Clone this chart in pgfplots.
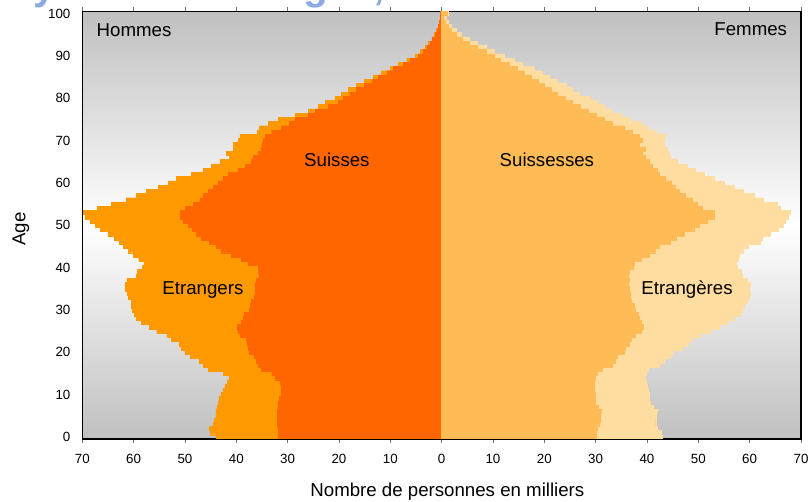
\documentclass[border=0pt]{standalone}
\usepackage{fontspec}
\setmainfont{Liberation Sans}
\usepackage{pgfplots}
\pgfplotsset{compat=1.18}
\usepackage{pgfplotstable}
\usetikzlibrary{calc}

\definecolor{suisses}{HTML}{FF6600}
\definecolor{etrangers}{HTML}{FF9900}
\definecolor{suissesses}{HTML}{FFBB55}
\definecolor{etrangeres}{HTML}{FFDDA0}
\definecolor{fond}{HTML}{C0C0C0}
\definecolor{titre}{HTML}{8EA8E0}

% milliers de personnes par age : S = suisses, T = total (suisses + etrangers)
\pgfplotstableread{
age S T
0 31.8 44.0
1 31.8 45.0
2 31.9 45.2
3 32.0 44.5
4 32.0 44.3
5 32.0 44.0
6 32.0 44.0
7 31.9 43.8
8 31.8 43.5
9 31.6 43.4
10 31.3 43.0
11 31.2 42.6
12 31.3 42.2
13 31.5 41.8
14 32.5 41.4
15 33.1 42.5
16 35.1 45.5
17 35.8 46.5
18 36.2 47.3
19 36.5 49.0
20 37.4 50.0
21 37.7 50.8
22 37.8 51.2
23 38.0 52.6
24 39.3 53.5
25 39.6 55.5
26 39.8 57.0
27 39.0 58.5
28 38.7 59.5
29 38.5 59.8
30 37.5 60.2
31 37.2 60.5
32 37.0 60.5
33 36.5 61.0
34 36.4 61.2
35 36.3 61.6
36 36.4 61.6
37 36.2 61.3
38 35.6 59.5
39 35.7 59.3
40 35.7 58.3
41 37.7 58.0
42 39.0 59.0
43 40.9 60.0
44 42.9 61.0
45 43.9 62.0
46 45.2 62.8
47 46.8 63.7
48 47.8 65.0
49 48.6 66.5
50 49.4 67.5
51 50.4 68.5
52 51.0 69.5
53 51.0 69.8
54 50.0 67.0
55 48.4 64.3
56 47.1 61.4
57 46.5 59.5
58 45.5 57.5
59 44.5 55.2
60 43.5 53.3
61 42.6 51.7
62 41.6 48.7
63 39.6 46.5
64 38.3 44.8
65 37.0 43.2
66 36.7 41.3
67 35.7 41.9
68 35.2 40.6
69 35.0 40.6
70 34.8 39.6
71 34.4 39.3
72 33.1 35.9
73 31.2 35.5
74 29.6 33.8
75 28.6 31.8
76 26.0 28.6
77 24.7 26.0
78 22.1 24.0
79 20.1 22.7
80 19.2 20.8
81 17.9 19.5
82 16.6 18.2
83 15.0 16.6
84 13.6 15.0
85 12.3 13.3
86 10.7 11.7
87 9.4 10.1
88 7.5 8.4
89 6.2 6.8
90 4.5 5.2
91 3.6 4.2
92 2.9 3.2
93 2.3 2.6
94 1.8 1.9
95 1.3 1.4
96 0.9 1.0
97 0.6 0.7
98 0.4 0.4
99 0.2 0.2
100 0.3 0.3
}\hommes

\pgfplotstableread{
age S T
0 30.2 43.0
1 30.2 42.8
2 30.3 42.0
3 30.6 41.7
4 30.8 41.7
5 30.8 41.8
6 31.0 42.0
7 30.4 41.2
8 30.0 40.7
9 30.0 40.5
10 29.9 40.4
11 29.7 40.3
12 29.7 40.0
13 29.7 39.8
14 30.0 39.7
15 30.3 39.9
16 31.3 40.2
17 33.2 42.3
18 33.8 43.3
19 34.2 44.6
20 35.5 45.2
21 35.8 46.9
22 36.6 48.0
23 36.9 48.8
24 37.8 50.4
25 38.9 52.4
26 39.2 54.0
27 38.8 55.6
28 38.5 56.9
29 38.3 58.2
30 37.8 58.6
31 37.6 58.9
32 37.0 59.5
33 36.8 60.0
34 36.7 60.2
35 36.5 60.0
36 36.4 60.1
37 36.5 59.6
38 36.4 58.5
39 36.6 58.3
40 37.3 57.5
41 37.6 57.4
42 38.8 57.8
43 40.4 58.0
44 41.6 58.8
45 42.4 59.8
46 44.6 62.1
47 45.6 62.4
48 47.2 64.0
49 49.1 65.6
50 50.1 66.6
51 51.7 66.9
52 53.0 67.6
53 53.0 67.8
54 50.7 66.0
55 49.8 65.3
56 48.8 62.7
57 47.5 60.8
58 46.2 58.8
59 45.4 56.9
60 44.8 55.0
61 43.6 53.0
62 42.4 51.1
63 41.9 49.4
64 41.0 47.8
65 40.4 45.9
66 39.7 44.6
67 39.1 44.3
68 39.7 43.9
69 38.5 43.3
70 39.1 43.3
71 38.5 43.6
72 37.2 41.7
73 35.5 40.2
74 33.3 38.8
75 31.6 36.5
76 30.2 35.0
77 28.6 33.0
78 27.0 31.6
79 25.5 30.3
80 24.0 29.0
81 22.6 26.8
82 21.3 25.5
83 20.0 24.2
84 18.8 22.6
85 17.4 20.9
86 16.1 19.6
87 14.8 18.0
88 13.2 15.7
89 11.5 14.1
90 10.2 12.2
91 8.6 10.2
92 7.0 8.6
93 5.4 7.0
94 4.1 5.4
95 2.8 3.8
96 1.9 2.8
97 1.2 1.8
98 0.7 1.3
99 0.4 0.8
100 1.0 1.2
}\femmes

\begin{document}
\begin{tikzpicture}
\begin{axis}[
    name=pyr,
    scale only axis,
    width=539pt, height=320.6pt,
    xmin=-70, xmax=70,
    ymin=-0.5, ymax=100.5,
    xtick={-70,-60,...,70},
    xticklabels={70,60,50,40,30,20,10,0,10,20,30,40,50,60,70},
    ytick={0,10,...,100},
    tick align=outside,
    major tick length=3pt,
    ytick style={draw=none},
    xtick style={black!55, line width=0.6pt},
    axis line style={black, line width=0.8pt},
    tick label style={font=\fontsize{10}{12}\selectfont},
    xticklabel style={yshift=-5pt},
    yticklabel style={xshift=-2.4pt},
    /pgf/number format/assume math mode=true,
    axis background/.style={shade, top color=fond, bottom color=fond, middle color=white},
    every axis plot/.append style={xbar, bar width=1, bar shift=0pt, line width=0.3pt},
  ]
  \addplot[fill=etrangers, draw=etrangers] table[x expr=-\thisrow{T}, y=age] {\hommes};
  \addplot[fill=suisses, draw=suisses] table[x expr=-\thisrow{S}, y=age] {\hommes};
  \addplot[fill=etrangeres, draw=etrangeres] table[x=T, y=age] {\femmes};
  \addplot[fill=suissesses, draw=suissesses] table[x=S, y=age] {\femmes};

  \begin{scope}[font=\fontsize{14}{16}\selectfont]
    \node[anchor=west] at (axis cs:-68.1,96) {Hommes};
    \node[anchor=east] at (axis cs:68.2,96.2) {Femmes};
    \node at (axis cs:-20.4,65.5) {Suisses};
    \node at (axis cs:20.5,65.5) {Suissesses};
    \node at (axis cs:-46.5,34.75) {Etrangers};
    \node at (axis cs:47.8,34.75) {Etrangères};
  \end{scope}
\end{axis}

\node[anchor=base] at ($(pyr.south)+(4.3pt,-43.5pt)$)
  {\fontsize{14}{16}\selectfont Nombre de personnes en milliers};
\node[rotate=90] at ($(pyr.west)+(-46pt,-3pt)$)
  {\fontsize{14}{16}\selectfont Age};
\node[anchor=base west, inner sep=0pt, text=titre] at ($(pyr.north west)+(-57.2pt,8.6pt)$)
  {\fontsize{30.4}{36}\selectfont\bfseries Pyramide des âges, 2017};

\pgfresetboundingbox
\path[use as bounding box] ($(pyr.south west)+(-61.7pt,-47.25pt)$)
  rectangle ($(pyr.north east)+(6pt,8.6pt)$);
\end{tikzpicture}
\end{document}
